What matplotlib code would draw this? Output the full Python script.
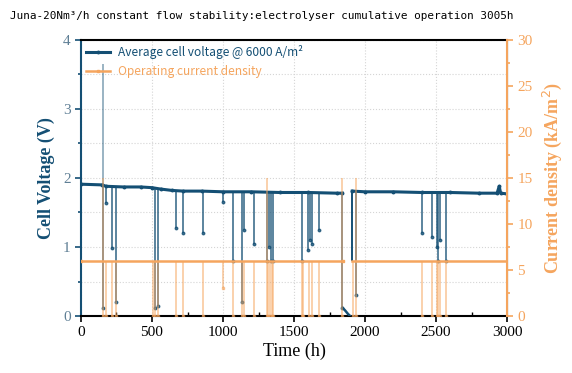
import numpy as np
import matplotlib
matplotlib.use("Agg")
import matplotlib.pyplot as plt
from matplotlib.ticker import MultipleLocator

BLUE = "#144f74"
ORANGE = "#f5a55e"
SERIF = ["Liberation Serif", "DejaVu Serif"]

# baseline cell voltage (V), two running periods
run1_t = [0, 150, 175, 300, 420, 500, 560, 640, 720, 850, 1000, 1200, 1400, 1600, 1800, 1840]
run1_v = [1.91, 1.90, 1.88, 1.87, 1.87, 1.86, 1.84, 1.82, 1.81, 1.81, 1.80, 1.80, 1.79, 1.79, 1.78, 1.78]
run2_t = [1910, 2000, 2200, 2400, 2600, 2800, 2930, 2945, 2955, 3000]
run2_v = [1.81, 1.80, 1.80, 1.79, 1.79, 1.78, 1.78, 1.88, 1.78, 1.77]

# voltage dips: time (h), level before, lowest reading (V)
dip_t = [157, 174, 216, 246, 521, 540, 669, 720, 861, 1002, 1068, 1131, 1150, 1218,
         1312, 1325, 1340, 1354, 1553, 1600, 1612, 1624, 1678, 1840, 1934,
         2398, 2473, 2504, 2515, 2527, 2570]
dip_top = [1.90, 1.88, 1.87, 1.87, 1.86, 1.85, 1.82, 1.81, 1.81, 1.80, 1.80, 1.80, 1.80, 1.80,
           1.80, 1.80, 1.80, 1.80, 1.79, 1.79, 1.79, 1.79, 1.79, 1.78, 1.80,
           1.79, 1.79, 1.79, 1.79, 1.79, 1.79]
dip_low = [0.12, 1.64, 0.98, 0.20, 0.12, 0.15, 1.27, 1.21, 1.20, 1.65, 0.80, 0.20, 1.25, 1.05,
           0.80, 1.00, 0.80, 0.80, 0.80, 0.95, 1.10, 1.05, 1.25, 0.12, 0.30,
           1.20, 1.15, 1.00, 0.80, 1.10, 0.80]

# start-up spike and shutdown decay
spike_t, spike_v = 157, 3.65
decay_t = [1842, 1860, 1880, 1895]
decay_v = [0.12, 0.08, 0.03, 0.0]
restart_t, restart_low = 1910, 0.80

# operating current density (kA/m2)
cur_t1 = [0, 1842]
cur_t2 = [1910, 3000]
cur_level = 6.0
cur_evt_t = [157, 174, 216, 246, 510, 521, 540, 669, 720, 861, 1002, 1068, 1131, 1150, 1218,
             1307, 1318, 1330, 1345, 1354, 1553, 1565, 1605, 1624, 1678, 1840, 1912, 1934,
             2398, 2473, 2504, 2515, 2527, 2570]
cur_evt_low = [0, 0, 0, 0, 0, 0, 0, 0, 0, 0, 3, 0, 0, 0, 0,
               0, 0, 0, 0, 0, 0, 0, 0, 0, 0, 0, 0, 0,
               0, 0, 0, 0, 0, 0]
cur_evt_high = [15, 6, 6, 6, 6, 6, 6, 6, 6, 6, 6, 6, 6, 6, 6,
                15, 6, 6, 6, 6, 6, 6, 6, 6, 6, 15, 6, 15,
                6, 6, 6, 6, 6, 6]

fig = plt.figure(figsize=(5.72, 3.73), dpi=100)
ax = fig.add_axes([0.1416, 0.1528, 0.7448, 0.74])
ax2 = ax.twinx()

# voltage
ax.vlines(dip_t, dip_low, dip_top, color=BLUE, lw=1.3, alpha=0.75, zorder=2)
ax.plot(dip_t, dip_low, "o", color=BLUE, ms=1.8, alpha=0.8, zorder=2)
ax.vlines([spike_t], [1.9], [spike_v], color=BLUE, lw=1.2, alpha=0.5, zorder=2)
ax.plot(decay_t, decay_v, color=BLUE, lw=1.8, zorder=3)
ax.vlines([restart_t], [restart_low], [run2_v[0]], color=BLUE, lw=1.4, zorder=3)
ax.plot(run1_t, run1_v, color=BLUE, lw=2.2, marker="o", ms=1.8, zorder=3,
        label="Average cell voltage @ 6000 A/m²")
ax.plot(run2_t, run2_v, color=BLUE, lw=2.2, marker="o", ms=1.8, zorder=3)

# current density
ax2.vlines(cur_evt_t, cur_evt_low, cur_evt_high, color=ORANGE, lw=1.3, alpha=0.55)
ax2.plot(cur_evt_t, cur_evt_low, "s", color=ORANGE, ms=1.5, alpha=0.6)
ax2.plot(cur_t1, [cur_level, cur_level], color=ORANGE, lw=1.8, marker="s", ms=1.8,
         label="Operating current density")
ax2.plot(cur_t2, [cur_level, cur_level], color=ORANGE, lw=1.8)

ax.set_xlim(0, 3000)
ax.set_ylim(0, 4)
ax2.set_ylim(0, 30)

ax.xaxis.set_major_locator(MultipleLocator(500))
ax.xaxis.set_minor_locator(MultipleLocator(250))
ax.yaxis.set_major_locator(MultipleLocator(1))
ax.yaxis.set_minor_locator(MultipleLocator(0.5))
ax2.yaxis.set_major_locator(MultipleLocator(5))
ax2.yaxis.set_minor_locator(MultipleLocator(2.5))

ax.grid(which="major", axis="x", ls=":", color="#d5d5d5", lw=0.8)
ax.grid(which="both", axis="y", ls=":", color="#d5d5d5", lw=0.8)
ax.set_axisbelow(True)

for s in ["top", "bottom"]:
    ax.spines[s].set_color("black")
    ax.spines[s].set_linewidth(1.5)
ax.spines["left"].set_color(BLUE)
ax.spines["left"].set_linewidth(1.5)
ax2.spines["right"].set_color(ORANGE)
ax2.spines["right"].set_linewidth(1.5)
ax2.spines["left"].set_visible(False)
ax2.spines["top"].set_visible(False)
ax2.spines["bottom"].set_visible(False)

ax.tick_params(axis="x", which="major", direction="out", length=4, width=1.2,
               labelsize=11, colors="black")
ax.tick_params(axis="x", which="minor", direction="in", length=3, width=1.0)
ax.tick_params(axis="y", which="both", direction="out", color=BLUE, width=1.2,
               labelcolor="#5f7f95", labelsize=11)
ax.tick_params(axis="y", which="major", length=4)
ax.tick_params(axis="y", which="minor", length=2.5)
ax2.tick_params(axis="y", which="both", direction="out", color=ORANGE, width=1.2,
                labelcolor=ORANGE, labelsize=11)
ax2.tick_params(axis="y", which="major", length=4)
ax2.tick_params(axis="y", which="minor", length=2.5)

for lab in ax.get_xticklabels() + ax.get_yticklabels() + ax2.get_yticklabels():
    lab.set_family(SERIF)

ax.set_xlabel("Time (h)", family=SERIF, fontsize=13, color="black", labelpad=2)
ax.set_ylabel("Cell Voltage (V)", family=SERIF, fontsize=13, fontweight="bold",
              color=BLUE, labelpad=6)
ax2.set_ylabel("Current density (kA/m$^2$)", family=SERIF, fontsize=13,
               fontweight="bold", color=ORANGE, labelpad=6)

h1, l1 = ax.get_legend_handles_labels()
h2, l2 = ax2.get_legend_handles_labels()
leg = ax2.legend(h1 + h2, l1 + l2, loc="upper left", frameon=False,
                 prop={"family": ["Noto Sans CJK SC", "DejaVu Sans"], "size": 8.6},
                 borderaxespad=0.1, handlelength=2.0, handletextpad=0.7,
                 labelspacing=0.55, borderpad=0.3)
for txt, c in zip(leg.get_texts(), [BLUE, ORANGE]):
    txt.set_color(c)

fig.text(0.457, 0.958, "Juna-20Nm³/h constant flow stability:electrolyser cumulative operation 3005h",
         ha="center", va="center", family="DejaVu Sans Mono", fontsize=7.9)

fig.savefig("out.png", dpi=100)
